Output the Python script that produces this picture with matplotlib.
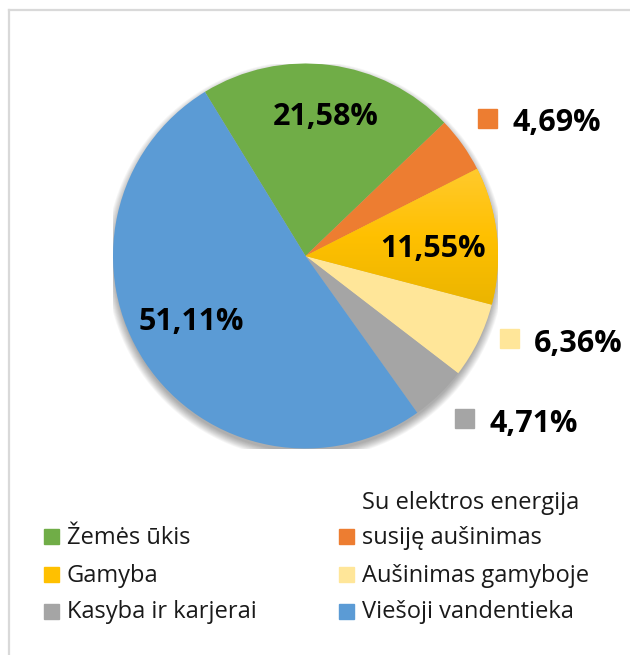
import matplotlib
matplotlib.use("Agg")
import matplotlib.pyplot as plt
import numpy as np
from matplotlib.colors import LinearSegmentedColormap
from matplotlib.patches import Circle, Rectangle

categories = [
    "Žemės ūkis",
    "Su elektros energija\nsusiję aušinimas",
    "Gamyba",
    "Aušinimas gamyboje",
    "Kasyba ir karjerai",
    "Viešoji vandentieka",
]
shares = [21.58, 4.69, 11.55, 6.36, 4.71, 51.11]
share_labels = ["21,58%", "4,69%", "11,55%", "6,36%", "4,71%", "51,11%"]
colors = ["#70AD47", "#ED7D31", "#FFC000", "#FFE699", "#A5A5A5", "#5B9BD5"]

# label placement: radius, angle nudge (deg), outside with colour key
label_radius = [0.74, 1.186, 0.666, 1.141, 1.181, 0.679]
label_nudge = [-0.7, 1.8, -2.3, 4.1, 0.5, -4.2]
label_outside = [False, True, False, True, True, False]

W, H = 630, 655
cx, cy, R = 305.5, 256.0, 192.5

plt.rcParams["font.family"] = ["Open Sans", "DejaVu Sans"]

fig = plt.figure(figsize=(W / 100, H / 100), dpi=100)
fig.patch.set_facecolor("white")

ax = fig.add_axes([(cx - R) / W, (H - cy - R) / H, 2 * R / W, 2 * R / H])

# soft shadow under the pie
for k in range(10):
    ax.add_patch(Circle((0, -0.022), 0.995 + k * 0.0045, color="black",
                        alpha=0.035, lw=0, zorder=0))

wedges, _ = ax.pie(shares, colors=colors, startangle=121.5, counterclock=False,
                   radius=1.0, wedgeprops=dict(linewidth=0))
ax.axis("off")
for w in wedges:
    w.set_zorder(2)
    w.set_clip_on(False)

# gold slice has a vertical gradient
gold = wedges[2]
gcmap = LinearSegmentedColormap.from_list("g", ["#E8B300", "#FFC000", "#FFCB33"])
grad = np.linspace(0, 1, 256).reshape(-1, 1)
img = ax.imshow(grad, cmap=gcmap, extent=[0, 1, -0.3, 0.5], origin="lower",
                aspect="auto", zorder=3)
img.set_clip_path(gold)
ax.set_xlim(-1, 1)
ax.set_ylim(-1, 1)
ax.set_aspect("equal")

px = 1.0 / R
for w, lab, rr, nd, out, col in zip(wedges, share_labels, label_radius,
                                    label_nudge, label_outside, colors):
    mid = np.deg2rad((w.theta1 + w.theta2) / 2 + nd)
    x, y = rr * np.cos(mid), rr * np.sin(mid)
    if out:
        s = 19 * px
        ax.add_patch(Rectangle((x - s / 2, y - s / 2), s, s, color=col,
                               zorder=4, clip_on=False))
        ax.text(x + 25 * px, y - 13.3 * px, lab, ha="left", va="baseline",
                fontsize=22, fontweight="bold", zorder=5)
    else:
        ax.text(x, y - 10 * px, lab, ha="center", va="baseline", fontsize=22,
                fontweight="bold", zorder=5)

# overlay in pixel coordinates: frame and legend
ov = fig.add_axes([0, 0, 1, 1])
ov.set_xlim(0, W)
ov.set_ylim(H, 0)
ov.axis("off")
ov.patch.set_alpha(0)
ov.plot([8.5, W], [9.5, 9.5], color="#D9D9D9", lw=1.6)
ov.plot([8.5, 8.5], [9.5, H], color="#D9D9D9", lw=1.6)

row_y = [536.5, 574, 611]
col_x = [51.5, 346.5]
for i, (name, col) in enumerate(zip(categories, colors)):
    r, c = divmod(i, 2)
    mx, my = col_x[c], row_y[r]
    ov.add_patch(Rectangle((mx - 7.5, my - 7.5), 15, 15, color=col))
    lines = name.split("\n")
    for j, line in enumerate(lines):
        ly = my + 7.5 - (len(lines) - 1 - j) * 35
        ov.text(mx + 15.5, ly, line, ha="left", va="baseline", fontsize=17,
                color="#1a1a1a")

fig.savefig("out.png", dpi=100)
